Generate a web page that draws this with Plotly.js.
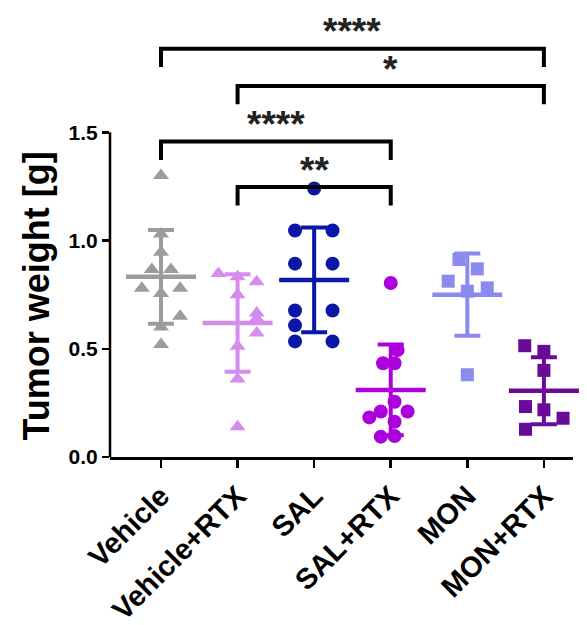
<!DOCTYPE html>
<html>
<head>
<meta charset="utf-8">
<script src="https://cdn.plot.ly/plotly-3.0.1.min.js"></script>
<style>html,body{margin:0;padding:0;background:#fff;}#chart{width:587px;height:625px;}</style>
</head>
<body>
<div id="chart"></div>
<script>
// ---- data ----
const categories = ['Vehicle', 'Vehicle+RTX', 'SAL', 'SAL+RTX', 'MON', 'MON+RTX'];

const vehicle    = [1.30, 1.03, 0.946, 0.866, 0.866, 0.78, 0.78, 0.755, 0.65, 0.60, 0.52];
const vehicleRtx = [0.848, 0.833, 0.81, 0.749, 0.665, 0.64, 0.573, 0.512, 0.36, 0.14];
const sal        = [1.24, 1.046, 1.046, 0.893, 0.893, 0.677, 0.677, 0.608, 0.534, 0.534];
const salRtx     = [0.804, 0.494, 0.433, 0.433, 0.255, 0.21, 0.21, 0.183, 0.163, 0.094, 0.097];
const mon        = [0.912, 0.869, 0.812, 0.781, 0.766, 0.38];
const monRtx     = [0.514, 0.488, 0.40, 0.233, 0.218, 0.179, 0.128];

const groupMeans = [0.832, 0.619, 0.818, 0.31, 0.75, 0.306];
const groupSDs   = [0.217, 0.225, 0.242, 0.21, 0.19, 0.155];

const yTickVals = [0, 0.5, 1.0, 1.5];
const yTickText = ['0.0', '0.5', '1.0', '1.5'];

const bracketFrom   = [0, 1, 0, 1];
const bracketTo     = [5, 5, 3, 3];
const bracketLevel  = [1.886, 1.714, 1.457, 1.247];
const bracketLabels = ['****', '*', '****', '**'];

// ---- presentation ----
const groups = [vehicle, vehicleRtx, sal, salRtx, mon, monRtx];
const jitter = [
  [0, 0, 0, -0.12, 0.13, -0.25, 0.25, 0, 0.25, 0, 0],
  [-0.25, 0, 0.25, 0, 0.25, 0.25, 0.25, 0, 0, 0],
  [0, -0.25, 0.24, -0.25, 0.24, -0.25, 0.24, -0.25, -0.25, 0.24],
  [0, 0.09, -0.1, 0.05, 0.05, -0.13, 0.22, -0.28, 0.05, -0.13, 0.05],
  [-0.11, 0.13, -0.25, 0.26, 0, 0],
  [-0.25, 0, 0, -0.24, 0, 0.25, -0.24]
];
const colors  = ['#9c9c9c', '#d48cee', '#0b17a6', '#ac00dc', '#8a8aef', '#6a0a98'];
const symbols = ['triangle-up', 'triangle-up', 'circle', 'circle', 'square', 'square'];
const sizes   = [14, 14, 14, 14, 13, 13];
const FONT = 'Liberation Sans, Arial, sans-serif';

const traces = [];
groups.forEach((vals, g) => {
  traces.push({
    type: 'scatter', mode: 'markers',
    x: vals.map((v, i) => g + jitter[g][i]), y: vals,
    marker: {symbol: symbols[g], size: sizes[g], color: colors[g], line: {width: 0}},
    hoverinfo: 'y', showlegend: false, cliponaxis: false
  });
});
groups.forEach((vals, g) => {
  traces.push({
    type: 'scatter', mode: 'markers',
    x: [g], y: [groupMeans[g]],
    marker: {symbol: 'line-ew', size: 50, color: colors[g], line: {width: 4.5, color: colors[g]}},
    error_y: {type: 'data', array: [groupSDs[g]], visible: true, color: colors[g], thickness: 4, width: 13},
    hoverinfo: 'y', showlegend: false, cliponaxis: false
  });
});

const legDrop = 0.085;
const shapes = bracketFrom.map((a, k) => ({
  type: 'path', xref: 'x', yref: 'y',
  path: `M ${a},${bracketLevel[k] - legDrop} L ${a},${bracketLevel[k]} L ${bracketTo[k]},${bracketLevel[k]} L ${bracketTo[k]},${bracketLevel[k] - legDrop}`,
  line: {color: '#000', width: 4}
}));
// y-axis line only spans 0..1.5
shapes.push({type: 'line', xref: 'paper', yref: 'y', x0: 0, x1: 0, y0: 0, y1: 1.5,
  line: {color: '#000', width: 2.5}});

const annotations = bracketFrom.map((a, k) => ({
  x: (a + bracketTo[k]) / 2, y: bracketLevel[k] + 0.078, xref: 'x', yref: 'y',
  text: bracketLabels[k], showarrow: false, xanchor: 'center', yanchor: 'middle',
  font: {family: FONT, size: 37, color: '#222', weight: 'bold'}
}));
annotations.push({
  x: -0.158, y: 0.745, xref: 'paper', yref: 'y', text: 'Tumor weight [g]',
  textangle: -90, showarrow: false, xanchor: 'center', yanchor: 'middle',
  font: {family: FONT, size: 36, color: '#000', weight: 'bold'}
});

const layout = {
  width: 587, height: 625,
  margin: {l: 110, r: 14, t: 24, b: 168},
  paper_bgcolor: '#fff', plot_bgcolor: '#fff',
  showlegend: false,
  xaxis: {
    range: [-0.666, 5.38], tickvals: [0, 1, 2, 3, 4, 5], ticktext: categories,
    tickangle: -45, showgrid: false, zeroline: false,
    showline: true, linecolor: '#000', linewidth: 2.5,
    ticks: 'outside', ticklen: 8, tickwidth: 2.5, tickcolor: '#000',
    tickfont: {family: FONT, size: 29, color: '#000', weight: 'bold'}
  },
  yaxis: {
    range: [0, 2.0], tickvals: yTickVals, ticktext: yTickText,
    showgrid: false, zeroline: false, showline: false,
    ticks: 'outside', ticklen: 7, tickwidth: 2.5, tickcolor: '#000',
    tickfont: {family: FONT, size: 21, color: '#000', weight: 'bold'}
  },
  shapes: shapes,
  annotations: annotations
};

Plotly.newPlot('chart', traces, layout, {displayModeBar: false, staticPlot: true});
</script>
</body>
</html>
